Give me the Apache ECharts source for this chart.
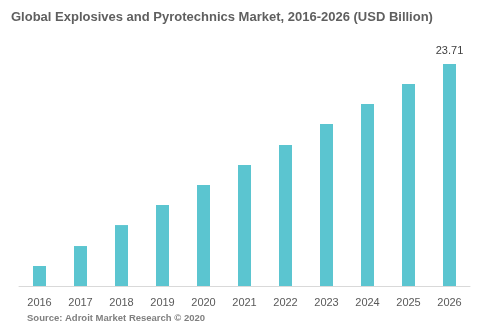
<!DOCTYPE html>
<html><head><meta charset="utf-8">
<script src="https://cdn.jsdelivr.net/npm/echarts@6/dist/echarts.min.js"></script>
<style>html,body{margin:0;padding:0;background:#fff}#c{width:477px;height:330px}</style>
</head><body><div id="c"></div>
<script>
var categories = ['2016','2017','2018','2019','2020','2021','2022','2023','2024','2025','2026'];
var values = [2.14, 4.27, 6.51, 8.65, 10.79, 12.92, 15.06, 17.30, 19.44, 21.57, 23.71];
var titleText = 'Global Explosives and Pyrotechnics Market, 2016-2026 (USD Billion)';
var sourceText = 'Source: Adroit Market Research \u00A9 2020';
var labelled = [10];

var chart = echarts.init(document.getElementById('c'), null, {renderer:'canvas'});
chart.setOption({
  animation:false,
  title:[{text:titleText,left:6,top:6,textStyle:{fontFamily:'Liberation Sans',fontSize:13,fontWeight:'bold',color:'#5f5f5f'}},
         {text:sourceText,left:22,top:308,textStyle:{fontFamily:'Liberation Sans',fontSize:9.5,fontWeight:'bold',color:'#7f7f7f'}}],
  grid:{left:19,right:7,top:52,bottom:44},
  xAxis:{type:'category',data:categories,axisTick:{show:false},
    axisLine:{lineStyle:{color:'#d9d9d9',width:1}},
    axisLabel:{fontFamily:'Liberation Sans',fontSize:11,color:'#595959',margin:11}},
  yAxis:{type:'value',min:0,max:25,show:false,splitLine:{show:false}},
  series:[{type:'bar',data:values.map(function(v,i){
      return {value:v,label:{show:labelled.indexOf(i)>=0}};
    }),barWidth:13,itemStyle:{color:'#5bc5d0'},
    label:{position:'top',distance:8,fontFamily:'Liberation Sans',fontSize:11,color:'#404040'}}]
});
</script></body></html>
